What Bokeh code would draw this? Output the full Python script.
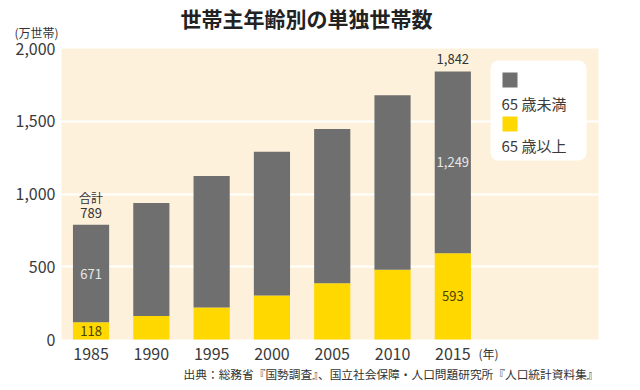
from bokeh.plotting import figure
from bokeh.models import (ColumnDataSource, Range1d, FixedTicker, NumeralTickFormatter,
                          Label, BoxAnnotation)
from bokeh.core.properties import value
from bokeh.embed import file_html
from bokeh.resources import INLINE

# ---- data ----
years = [1985, 1990, 1995, 2000, 2005, 2010, 2015]
over65 = [118, 162, 220, 303, 386, 479, 593]
total = [789, 939, 1124, 1291, 1446, 1678, 1842]
under65 = [t - o for t, o in zip(total, over65)]
y_ticks = [0, 500, 1000, 1500, 2000]
grid_ticks = [500, 1000, 1500]

title_text = "世帯主年齢別の単独世帯数"
unit_text = "(万世帯)"
year_unit = "(年)"
source_text = "出典：総務省『国勢調査』、国立社会保障・人口問題研究所『人口統計資料集』"
series_names = ["65歳未満", "65歳以上"]

GRAY = "#6f6f6f"
YELLOW = "#ffd800"
BG = "#fdf1db"
TXT = "#333333"
FONT = "Noto Sans CJK JP"

# plotting area (data) and its placement on the page (pixels)
X0, X1 = 1982.55, 2027.08
Y0, Y1 = 0, 2000
W, H = 640, 390
FL, FT, FR, FB = 61, 48, 598, 339

SX = (X1 - X0) / (FR - FL)
SY = (Y1 - Y0) / (FB - FT)
XF0, XF1 = X0 - FL * SX, X1 + (W - FR) * SX
YF0, YF1 = Y0 - (H - FB) * SY, Y1 + FT * SY

def dx(px):
    return XF0 + px * SX

def dy(py):
    return YF1 - py * SY

p = figure(width=W, height=H, output_backend="svg", toolbar_location=None,
           x_range=Range1d(XF0, XF1), y_range=Range1d(YF0, YF1), title=None,
           min_border_left=0, min_border_right=0, min_border_top=0,
           min_border_bottom=0)
p.background_fill_color = "white"
p.border_fill_color = "white"
p.outline_line_color = None

# cream plotting area
p.add_layout(BoxAnnotation(left=X0, right=X1, bottom=Y0, top=Y1, fill_color=BG,
                           fill_alpha=1, line_color=None, level="image"))

src = ColumnDataSource(dict(year=years, over65=over65, under65=under65, total=total))
p.vbar_stack(["over65", "under65"], x="year", width=3.0, color=[YELLOW, GRAY],
             line_color=None, source=src)

# axes placed at the edges of the plotting area
p.yaxis.ticker = FixedTicker(ticks=y_ticks)
p.yaxis.formatter = NumeralTickFormatter(format="0,0")
p.xaxis.ticker = FixedTicker(ticks=years)
p.yaxis.fixed_location = X0
p.xaxis.fixed_location = Y0
for ax in (p.xaxis, p.yaxis):
    ax.axis_line_color = None
    ax.major_tick_line_color = None
    ax.minor_tick_line_color = None
    ax.major_tick_out = 0
    ax.major_tick_in = 0
    ax.minor_tick_out = 0
    ax.major_label_text_font = FONT
    ax.major_label_text_font_size = "16px"
    ax.major_label_text_color = "#3a3a3a"
p.yaxis.major_label_standoff = 6
p.xaxis.major_label_standoff = 8

p.xgrid.grid_line_color = None
p.ygrid.ticker = FixedTicker(ticks=grid_ticks)
p.ygrid.grid_line_color = "white"
p.ygrid.grid_line_width = 2
p.ygrid.cross_bounds = (X0, X1)

# value labels
i0, i1 = 0, len(years) - 1
top_src = ColumnDataSource(dict(x=[years[i0], years[i1]], y=[total[i0], total[i1]],
                                t=[f"{total[i0]:,}", f"{total[i1]:,}"]))
p.text(x="x", y="y", text="t", source=top_src, y_offset=-12, text_align="center",
       text_baseline="middle", text_font=value(FONT), text_font_size="13px",
       text_color=TXT)
p.text(x=[years[i0]], y=[total[i0]], text=["合計"], y_offset=-27, text_align="center",
       text_baseline="middle", text_font=value(FONT), text_font_size="12px",
       text_color=TXT)

in_gray = ColumnDataSource(dict(x=[years[i0], years[i1]],
                                y=[over65[i0] + under65[i0] / 2, over65[i1] + under65[i1] / 2],
                                t=[f"{under65[i0]:,}", f"{under65[i1]:,}"]))
p.text(x="x", y="y", text="t", source=in_gray, text_align="center",
       text_baseline="middle", text_font=value(FONT), text_font_size="13px",
       text_color="#e8e8e8")
in_yel = ColumnDataSource(dict(x=[years[i0], years[i1]],
                               y=[over65[i0] / 2, over65[i1] / 2],
                               t=[f"{over65[i0]:,}", f"{over65[i1]:,}"]))
p.text(x="x", y="y", text="t", source=in_yel, text_align="center",
       text_baseline="middle", text_font=value(FONT), text_font_size="13px",
       text_color="#4a4200")

# legend (manual)
p.add_layout(BoxAnnotation(left=dx(490), right=dx(586), top=dy(60), bottom=dy(160),
                           fill_color="white", fill_alpha=1, line_color=None,
                           border_radius=8, level="guide"))
p.add_layout(BoxAnnotation(left=dx(502), right=dx(517), top=dy(72), bottom=dy(87),
                           fill_color=GRAY, fill_alpha=1, line_color=None, level="guide"))
p.add_layout(BoxAnnotation(left=dx(502), right=dx(517), top=dy(116), bottom=dy(131),
                           fill_color=YELLOW, fill_alpha=1, line_color=None, level="guide"))

def label(px, py, text, align, size, bold=False, color=TXT):
    p.add_layout(Label(x=dx(px), y=dy(py), text=text, text_align=align,
                       text_baseline="middle", text_font=FONT, text_font_size=size,
                       text_font_style="bold" if bold else "normal",
                       text_color=color, level="overlay"))

for name, py in zip(series_names, [103, 145]):
    label(501, py, name[:2] + " " + name[2:], "left", "15px", color="#3a3a3a")

label(306, 17, title_text, "center", "21px", bold=True, color="#222222")
label(14, 32, unit_text, "left", "12px")
label(478, 353, year_unit, "left", "12px")
label(598, 373, source_text, "right", "11.7px")

open("out.html", "w").write(file_html(p, INLINE))
